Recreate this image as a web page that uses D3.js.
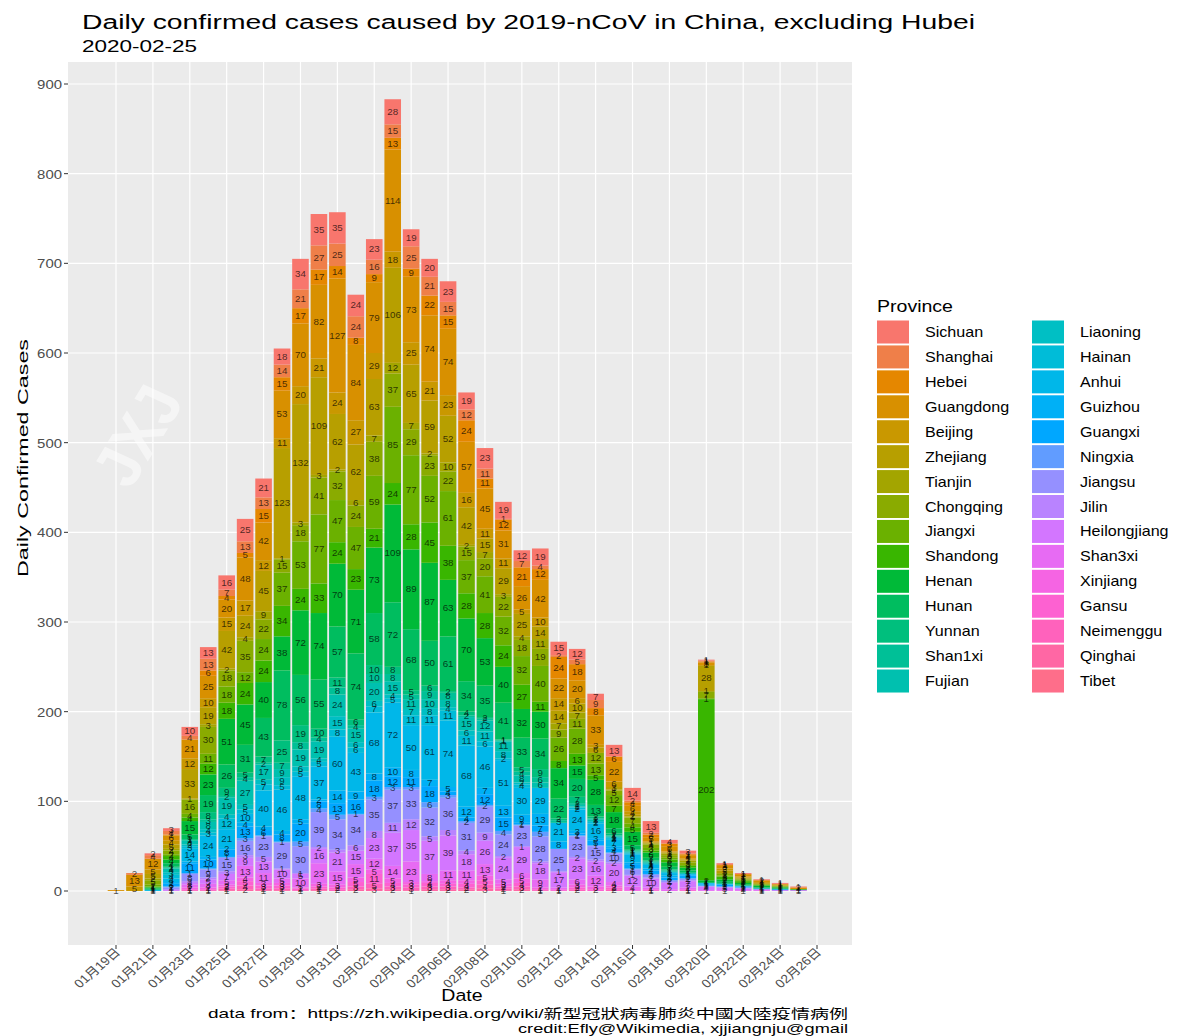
<!DOCTYPE html>
<html>
<head>
<meta charset="utf-8">
<script src="https://cdn.jsdelivr.net/npm/d3@7"></script>
<style>
  body { margin: 0; background: #fff; }
  text { font-family: "Liberation Sans", Arial, "Noto Sans CJK SC", sans-serif; }
</style>
</head>
<body>
<svg id="chart" width="1188" height="1036"></svg>
<script>
// provinces, in legend order (first one sits on top of each stack)
const provinces = ['Sichuan', 'Shanghai', 'Hebei', 'Guangdong', 'Beijing', 'Zhejiang', 'Tianjin',
  'Chongqing', 'Jiangxi', 'Shandong', 'Henan', 'Hunan', 'Yunnan', 'Shan1xi', 'Fujian',
  'Liaoning', 'Hainan', 'Anhui', 'Guizhou', 'Guangxi', 'Ningxia', 'Jiangsu', 'Jilin',
  'Heilongjiang', 'Shan3xi', 'Xinjiang', 'Gansu', 'Neimenggu', 'Qinghai', 'Tibet'];

const dates = ['2020-01-19', '2020-01-20', '2020-01-21', '2020-01-22', '2020-01-23', '2020-01-24',
  '2020-01-25', '2020-01-26', '2020-01-27', '2020-01-28', '2020-01-29', '2020-01-30', '2020-01-31',
  '2020-02-01', '2020-02-02', '2020-02-03', '2020-02-04', '2020-02-05', '2020-02-06', '2020-02-07',
  '2020-02-08', '2020-02-09', '2020-02-10', '2020-02-11', '2020-02-12', '2020-02-13', '2020-02-14',
  '2020-02-15', '2020-02-16', '2020-02-17', '2020-02-18', '2020-02-19', '2020-02-20', '2020-02-21',
  '2020-02-22', '2020-02-23', '2020-02-24', '2020-02-25'];

// daily new cases per province (same order as provinces)
const jan19 = [0,0,0,1,0,0,0,0,0,0, 0,0,0,0,0,0,0,0,0,0, 0,0,0,0,0,0,0,0,0,0];
const jan20 = [0,2,0,13,5,0,0,0,0,0, 0,0,0,0,0,0,0,0,0,0, 0,0,0,0,0,0,0,0,0,0];
const jan21 = [2,4,0,12,5,5,2,5,2,1, 1,1,1,0,0,0,0,1,0,0, 0,0,0,0,0,0,0,0,0,0];
const jan22 = [3,4,1,6,4,5,2,4,2,4, 4,4,1,1,4,3,4,4,2,3, 1,2,1,1,0,0,0,0,0,0];
const jan23 = [10,4,0,21,12,33,1,16,4,4, 15,5,1,1,4,2,3,14,2,11, 1,8,2,2,3,2,1,1,0,0];
const jan24 = [13,13,6,25,10,19,3,30,11,12, 23,19,8,3,8,4,3,24,3,10, 1,9,2,5,4,2,1,1,0,0];
const jan25 = [16,7,4,20,15,42,2,18,18,18, 51,26,9,2,19,4,12,21,2,8, 1,15,3,7,5,2,2,2,1,0];
const jan26 = [25,13,5,48,17,24,4,35,12,24, 45,31,5,4,27,5,5,10,4,13, 3,16,3,9,13,4,5,4,2,0];
const jan27 = [21,13,15,42,12,45,9,22,24,24, 40,43,7,2,17,5,7,40,4,6, 1,23,5,13,11,3,3,2,1,0];
const jan28 = [18,14,15,53,11,123,1,15,37,34, 38,78,25,7,9,9,5,46,4,8, 1,29,1,10,5,3,3,2,1,0];
const jan29 = [34,21,17,70,20,132,3,18,53,24, 72,56,19,8,19,6,5,48,5,20, 5,30,1,5,10,1,2,1,0,0];
const jan30 = [35,27,17,82,21,109,3,41,77,33, 74,55,10,4,19,4,5,37,2,8, 4,39,2,16,23,3,2,2,1,0];
const jan31 = [35,25,14,127,24,62,2,32,47,24, 70,57,11,8,24,15,8,60,14,13, 5,34,3,21,15,3,2,2,0,0];
const feb01 = [24,24,8,84,27,62,6,24,47,23, 71,74,6,4,15,6,6,43,9,16, 1,34,6,15,15,5,5,3,2,0];
const feb02 = [23,16,9,79,29,63,7,38,59,21, 73,58,10,10,20,6,7,68,8,18, 3,35,8,23,12,5,11,5,3,0];
const feb03 = [28,15,13,114,18,106,12,37,85,24, 109,72,8,8,15,4,5,72,10,12, 3,37,11,37,14,5,4,3,2,0];
const feb04 = [19,25,9,73,25,65,7,29,77,28, 89,68,5,5,11,7,11,50,8,11, 3,33,12,35,23,3,3,3,1,0];
const feb05 = [20,21,22,74,21,59,2,23,52,45, 87,50,6,9,10,8,11,61,7,18, 6,32,5,37,8,2,4,3,2,0];
const feb06 = [23,15,15,74,23,52,10,22,61,38, 63,61,2,8,8,4,11,74,5,4, 3,36,6,39,11,4,3,3,2,0];
const feb07 = [19,12,24,57,16,42,2,15,37,28, 70,34,4,2,15,6,11,68,12,4, 2,31,4,18,11,4,4,2,2,0];
const feb08 = [23,11,11,45,11,15,7,20,41,28, 53,35,2,2,12,11,6,46,7,12, 2,29,9,26,13,5,5,4,3,0];
const feb09 = [19,1,12,31,11,29,3,22,32,24, 40,41,1,1,11,8,2,51,13,15, 4,24,2,24,5,3,2,2,1,0];
const feb10 = [12,7,21,26,5,25,4,18,32,27, 32,33,5,4,8,2,4,30,9,2, 1,23,1,29,6,5,4,3,2,0];
const feb11 = [19,4,12,42,10,14,11,19,40,11, 30,34,9,6,6,0,0,29,13,7, 5,28,2,18,9,2,1,1,0,0];
const feb12 = [15,2,24,22,14,14,7,9,26,8, 34,22,2,3,0,0,0,21,8,0, 0,25,1,17,2,1,1,0,0,0];
const feb13 = [12,5,18,20,6,10,7,11,28,13, 15,20,7,2,2,1,2,24,3,2, 1,23,2,23,6,3,2,2,0,0];
const feb14 = [7,9,8,33,3,6,0,12,13,5, 28,13,2,1,2,1,2,16,3,5, 1,15,2,16,12,3,2,0,0,0];
const feb15 = [13,0,6,22,6,3,1,5,12,7, 18,6,2,1,1,1,2,7,3,4, 1,10,2,20,4,2,2,2,0,0];
const feb16 = [14,2,4,6,4,2,1,7,4,5, 15,5,1,1,1,1,1,9,2,5, 1,6,1,12,4,1,0,0,0,0];
const feb17 = [13,2,3,5,1,1,1,4,3,2, 6,3,1,1,1,1,1,4,2,4, 1,3,1,10,2,1,1,0,0,0];
const feb18 = [4,0,3,6,1,1,2,3,2,3, 5,3,1,1,1,0,1,3,2,3, 0,2,1,7,2,0,0,0,0,0];
const feb19 = [3,1,1,4,1,1,2,3,1,2, 3,2,1,0,1,0,0,1,1,3, 0,2,1,7,2,1,1,0,0,0];
const feb20 = [1,1,1,3,1,28,1,7,1,202, 2,1,0,0,0,0,0,1,1,1, 0,1,0,4,1,0,0,0,0,0];
const feb21 = [1,1,1,3,2,3,1,2,1,3, 2,2,1,0,0,0,0,1,0,2, 0,1,0,3,1,0,0,0,0,0];
const feb22 = [1,0,1,2,1,1,1,1,1,2, 2,1,0,0,0,0,0,1,0,1, 0,1,0,2,1,0,0,0,0,0];
const feb23 = [1,0,0,2,1,1,0,1,0,1, 2,1,0,0,0,0,0,1,0,0, 0,0,0,1,1,0,0,0,0,0];
const feb24 = [1,0,0,1,1,0,0,1,0,1, 1,1,0,0,0,0,0,0,0,1, 0,0,0,1,0,0,0,0,0,0];
const feb25 = [1,0,0,2,0,0,0,0,0,0, 1,0,0,0,0,0,0,0,0,0, 0,0,0,1,0,0,0,0,0,0];

const dayValues = [jan19, jan20, jan21, jan22, jan23, jan24, jan25, jan26, jan27, jan28, jan29,
  jan30, jan31, feb01, feb02, feb03, feb04, feb05, feb06, feb07, feb08, feb09, feb10, feb11,
  feb12, feb13, feb14, feb15, feb16, feb17, feb18, feb19, feb20, feb21, feb22, feb23, feb24, feb25];

const yBreaks = [0, 100, 200, 300, 400, 500, 600, 700, 800, 900];
const xBreaks = ['2020-01-19', '2020-01-21', '2020-01-23', '2020-01-25', '2020-01-27', '2020-01-29',
  '2020-01-31', '2020-02-02', '2020-02-04', '2020-02-06', '2020-02-08', '2020-02-10', '2020-02-12',
  '2020-02-14', '2020-02-16', '2020-02-18', '2020-02-20', '2020-02-22', '2020-02-24', '2020-02-26'];

const titleText = 'Daily confirmed cases caused by 2019-nCoV in China, excluding Hubei';
const subtitleText = '2020-02-25';
const captionLines = ['data from：https://zh.wikipedia.org/wiki/新型冠狀病毒肺炎中國大陸疫情病例',
  'credit:Efly@Wikimedia, xjjiangnju@gmail'];

// ggplot-like hue palette (polar LUV, c=100, l=65)
function hueColor(h) {
  const l = 65, c = 100, hr = h * Math.PI / 180;
  const U = c * Math.cos(hr), V = c * Math.sin(hr);
  const Y = 100 * Math.pow((l + 16) / 116, 3);
  const u = U / (13 * l) + 0.1978398, v = V / (13 * l) + 0.4683363;
  const X = 9 * Y * u / (4 * v), Z = -X / 3 - 5 * Y + 3 * Y / v;
  const g = t => t > 0.00304 ? 1.055 * Math.pow(t, 1 / 2.4) - 0.055 : 12.92 * t;
  const ch = t => Math.round(255 * Math.max(0, Math.min(1, g(t / 100))));
  return d3.rgb(ch(3.240479 * X - 1.537150 * Y - 0.498535 * Z),
                ch(-0.969256 * X + 1.875992 * Y + 0.041556 * Z),
                ch(0.055648 * X - 0.204043 * Y + 1.057311 * Z)).formatHex();
}
const color = d3.scaleOrdinal()
  .domain(provinces)
  .range(provinces.map((p, i) => hueColor(15 + 360 * i / provinces.length)));

const svg = d3.select('#chart');
const S = 1.15; // text in the reference is slightly stretched sideways

function addText(x, y, str, o = {}) {
  const sx = o.sx ?? S;
  const t = svg.append('text')
    .attr('transform', `translate(${x},${y}) scale(${sx},1) rotate(${o.rotate || 0})`)
    .attr('text-anchor', o.anchor || 'start')
    .attr('font-size', o.size || 12)
    .attr('fill', o.color || '#000')
    .text(str);
  if (o.len) t.attr('textLength', o.len).attr('lengthAdjust', 'spacingAndGlyphs');
  return t;
}

const parseDate = d3.timeParse('%Y-%m-%d');
const x = d3.scaleTime()
  .domain([parseDate('2020-01-19'), parseDate('2020-02-26')])
  .range([116, 817]);
const y = d3.scaleLinear().domain([0, 900]).range([891, 84]);
const panel = { left: 68, right: 852, top: 62, bottom: 945 };
const dayWidth = x(parseDate('2020-01-20')) - x(parseDate('2020-01-19'));
const barWidth = dayWidth * 0.9;

// panel background + grid
svg.append('rect')
  .attr('x', panel.left).attr('y', panel.top)
  .attr('width', panel.right - panel.left).attr('height', panel.bottom - panel.top)
  .attr('fill', '#ebebeb');

svg.append('g').selectAll('line').data(yBreaks).join('line')
  .attr('x1', panel.left).attr('x2', panel.right)
  .attr('y1', d => y(d)).attr('y2', d => y(d))
  .attr('stroke', '#fff').attr('stroke-width', 1.2);

svg.append('g').selectAll('line').data(xBreaks).join('line')
  .attr('x1', d => x(parseDate(d))).attr('x2', d => x(parseDate(d)))
  .attr('y1', panel.top).attr('y2', panel.bottom)
  .attr('stroke', '#fff').attr('stroke-width', 1.2);

// watermark
addText(158, 445, 'JXJ', { size: 58, rotate: -62, color: '#fff', anchor: 'middle' })
  .attr('opacity', 0.5).attr('font-weight', 'bold');

// stacked bars
const table = dates.map((d, i) => {
  const row = { date: parseDate(d) };
  provinces.forEach((p, j) => { row[p] = dayValues[i][j]; });
  return row;
});
const series = d3.stack().keys(provinces.slice().reverse())(table);

const segs = [];
series.forEach(s => s.forEach(pt => {
  const v = pt.data[s.key];
  if (v > 0) segs.push({ key: s.key, v, date: pt.data.date, y0: pt[0], y1: pt[1] });
}));

svg.append('g').selectAll('rect').data(segs).join('rect')
  .attr('x', d => x(d.date) - barWidth / 2)
  .attr('width', barWidth)
  .attr('y', d => y(d.y1))
  .attr('height', d => y(d.y0) - y(d.y1))
  .attr('fill', d => color(d.key));

const labels = svg.append('g');
segs.forEach(d => {
  labels.append('text')
    .attr('transform', `translate(${x(d.date)},${(y(d.y0) + y(d.y1)) / 2 + 3}) scale(${S},1)`)
    .attr('text-anchor', 'middle')
    .attr('font-size', 8.5)
    .attr('fill', '#000')
    .attr('fill-opacity', 0.7)
    .text(d.v);
});

// axes
yBreaks.forEach(b => {
  svg.append('line').attr('x1', panel.left - 4).attr('x2', panel.left)
    .attr('y1', y(b)).attr('y2', y(b)).attr('stroke', '#333').attr('stroke-width', 1);
  addText(panel.left - 6, y(b) + 5, b, { size: 13, anchor: 'end', color: '#4d4d4d' });
});
const fmt = d3.timeFormat('%m月%d日');
xBreaks.forEach(b => {
  const px = x(parseDate(b));
  svg.append('line').attr('x1', px).attr('x2', px)
    .attr('y1', panel.bottom).attr('y2', panel.bottom + 4).attr('stroke', '#333');
  addText(px + 5, panel.bottom + 8, fmt(parseDate(b)), { size: 12, anchor: 'end', rotate: -45, color: '#4d4d4d' });
});

addText(462, 1001, 'Date', { size: 17, anchor: 'middle' });
addText(28, 458, 'Daily Confirmed Cases', { size: 15, anchor: 'middle', rotate: -90, len: 238, sx: 1 });

// title, subtitle, caption
addText(82, 29, titleText, { size: 21, len: 893 / S });
addText(82, 52, subtitleText, { size: 16, len: 115 / S });
addText(848, 1018, captionLines[0], { size: 13, anchor: 'end', len: 640 / S });
addText(848, 1033, captionLines[1], { size: 13, anchor: 'end', len: 330 / S });

// legend
addText(877, 312, 'Province', { size: 17 });
const rowH = 24.93;
provinces.forEach((p, i) => {
  const col = Math.floor(i / 15), row = i % 15;
  const lx = col === 0 ? 877 : 1032;
  const cy = 332 + row * rowH;
  svg.append('rect').attr('x', lx).attr('y', cy - 11.5)
    .attr('width', 32).attr('height', 23).attr('fill', color(p));
  addText(lx + 48, cy + 5, p, { size: 14 });
});
</script>
</body>
</html>
